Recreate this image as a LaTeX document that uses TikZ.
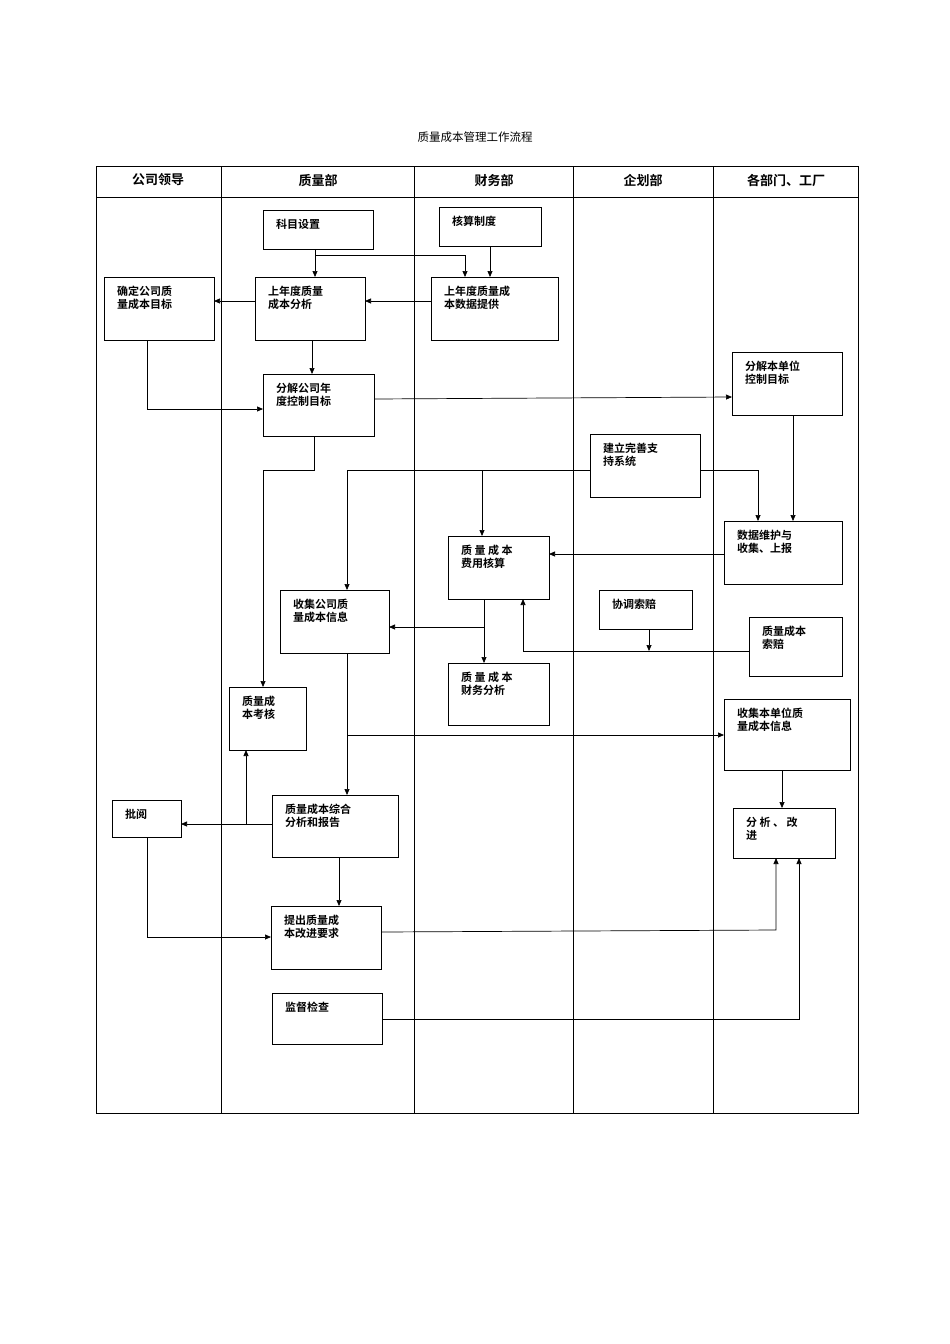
\documentclass[tikz,border=0pt]{standalone}
\usepackage{fontspec}
\newfontfamily\cjk{Noto Sans CJK SC}
\newfontfamily\cjkb{Noto Sans CJK SC Bold}
\usetikzlibrary{arrows.meta}
\begin{document}
\begin{tikzpicture}[x=1pt,y=-1pt,
  bx/.style={draw,line width=0.8pt},
  tx/.style={anchor=north west,align=left,font=\cjkb\fontsize{11}{12.5}\selectfont,inner sep=0pt},
  hd/.style={font=\cjkb\fontsize{13}{14}\selectfont},
  ar/.style={-{Triangle[length=6pt,width=5pt]},line width=0.7pt},
  ln/.style={line width=0.7pt}]
\useasboundingbox (0,0) rectangle (950,1344);
\node[font=\cjk\fontsize{11.5}{13}\selectfont] (title) at (475,137) {质量成本管理工作流程};
\draw[line width=0.7pt] (96,166) rectangle (858,1113);
\draw[line width=0.7pt] (96,197) -- (858,197);
\foreach \x in {221,414,573,713} \draw[line width=0.7pt] (\x,166) -- (\x,1113);
\node[hd] (h1) at (158,180) {公司领导};
\node[hd] (h2) at (318,180) {质量部};
\node[hd] (h3) at (494,180) {财务部};
\node[hd] (h4) at (643,180) {企划部};
\node[hd] (h5) at (786,180) {各部门、工厂};
% boxes
\newcommand\mybox[6]{\draw[bx] (#2,#3) rectangle (#4,#5); \node[tx] (#1) at (#2+13,#3+9) {#6};}
\mybox{km}{263}{210}{373}{249}{科目设置}
\mybox{hs}{439}{207}{541}{246}{核算制度}
\mybox{qd}{104}{277}{214}{340}{确定公司质\\量成本目标}
\mybox{sf}{255}{277}{365}{340}{上年度质量\\成本分析}
\mybox{ss}{431}{277}{558}{340}{上年度质量成\\本数据提供}
\mybox{fg}{263}{374}{374}{436}{分解公司年\\度控制目标}
\mybox{fd}{732}{352}{842}{415}{分解本单位\\控制目标}
\mybox{jl}{590}{434}{700}{497}{建立完善支\\持系统}
\mybox{sj}{724}{521}{842}{584}{数据维护与\\收集、上报}
\mybox{fy}{448}{536}{549}{599}{质 量 成 本\\费用核算}
\mybox{sg}{280}{590}{389}{653}{收集公司质\\量成本信息}
\mybox{xt}{599}{590}{692}{629}{协调索赔}
\mybox{sp}{749}{617}{842}{676}{质量成本\\索赔}
\mybox{cw}{448}{663}{549}{725}{质 量 成 本\\财务分析}
\mybox{kh}{229}{687}{306}{750}{质量成\\本考核}
\mybox{sd}{724}{699}{850}{770}{收集本单位质\\量成本信息}
\mybox{py}{112}{800}{181}{837}{批阅}
\mybox{zh}{272}{795}{398}{857}{质量成本综合\\分析和报告}
\mybox{gj}{733}{808}{835}{858}{分 析 、 改\\进}
\mybox{tc}{271}{906}{381}{969}{提出质量成\\本改进要求}
\mybox{jd}{272}{993}{382}{1044}{监督检查}
% connectors
\draw[ar] (315,249) -- (315,277);
\draw[ar] (315,255) -- (465,255) -- (465,277);
\draw[ar] (490,246) -- (490,277);
\draw[ar] (431,301) -- (365,301);
\draw[ar] (255,301) -- (214,301);
\draw[ar] (312,340) -- (312,374);
\draw[ar] (147,340) -- (147,409) -- (263,409);
\draw[ar] (374,399) -- (732,397);
\draw[ar] (314,436) -- (314,470) -- (263,470) -- (263,687);
\draw[ar] (590,470) -- (347,470) -- (347,590);
\draw[ar] (482,470) -- (482,536);
\draw[ar] (700,470) -- (758,470) -- (758,521);
\draw[ar] (793,415) -- (793,521);
\draw[ar] (724,554) -- (549,554);
\draw[ar] (484,599) -- (484,663);
\draw[ar] (484,627) -- (389,627);
\draw[ar] (749,651) -- (523,651) -- (523,599);
\draw[ar] (649,629) -- (649,651);
\draw[ar] (347,653) -- (347,795);
\draw[ar] (347,735) -- (724,735);
\draw[ar] (782,770) -- (782,808);
\draw[ar] (272,824) -- (181,824);
\draw[ar] (246,824) -- (246,750);
\draw[ar] (339,857) -- (339,906);
\draw[ar] (147,837) -- (147,937) -- (271,937);
\draw[ar] (381,932) -- (776,930) -- (776,858);
\draw[ar] (382,1019) -- (799,1019) -- (799,858);
\end{tikzpicture}
\end{document}
